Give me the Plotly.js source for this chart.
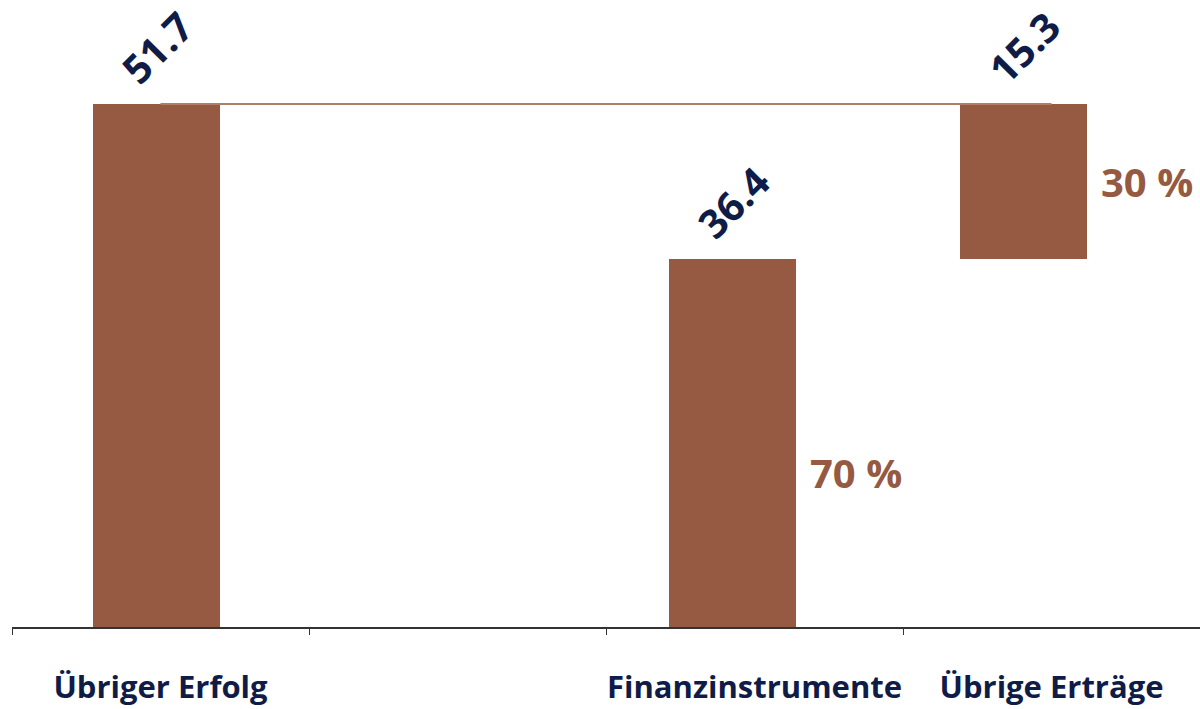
<!DOCTYPE html>
<html>
<head>
<meta charset="utf-8">
<script src="https://cdn.plot.ly/plotly-3.0.1.min.js"></script>
<style>
  html, body { margin: 0; padding: 0; background: #fff; }
  #chart { width: 1200px; height: 709px; }
</style>
</head>
<body>
<div id="chart"></div>
<script>
// categories (second slot is an empty spacer in the original layout)
const categories = ["Übriger Erfolg", " ", "Finanzinstrumente", "Übrige Erträge"];
const barCats    = ["Übriger Erfolg", "Finanzinstrumente", "Übrige Erträge"];
const barValues  = [51.7, 36.4, 15.3];
const barBases   = [0, 0, 36.4];
const valueLabels = ["51.7", "36.4", "15.3"];
const shareCats   = ["Finanzinstrumente", "Übrige Erträge"];
const shareLabels = ["70 %", "30 %"];
const total = 51.7;

const C = {
  bar: "#965A42", line: "#B07D66", navy: "#0F1C47", axis: "#333333",
  font: "'Open Sans', sans-serif",
};

// small per-bar shift to match the original placement (fraction of category)
const W = 0.43;
const shift = [-0.013, -0.074, -0.094];
const offsets = shift.map(s => -W / 2 + s);
const CAT_PX = 297;

const bars = {
  type: "bar", x: barCats, y: barValues, base: barBases,
  width: W, offset: offsets,
  marker: { color: C.bar, line: { width: 0 } },
  hoverinfo: "skip",
};

const connector = {
  type: "scatter", mode: "lines",
  x: [barCats[0], barCats[2]], y: [total, total],
  line: { color: C.line, width: 2 }, hoverinfo: "skip",
};

const annotations = [];
barCats.forEach((c, i) => {
  annotations.push({
    x: c, y: barBases[i] + barValues[i], text: valueLabels[i],
    xref: "x", yref: "y", showarrow: false, textangle: -45,
    xanchor: "center", yanchor: "bottom",
    xshift: shift[i] * CAT_PX, yshift: 6,
    font: { family: C.font, size: 40, color: C.navy, weight: 700 },
  });
});
const shareY = [-0.3, 0];
shareCats.forEach((c, j) => {
  const i = barCats.indexOf(c);
  annotations.push({
    x: c, y: barBases[i] + barValues[i] / 2, text: shareLabels[j],
    xref: "x", yref: "y", showarrow: false,
    xanchor: "left", yanchor: "middle",
    xshift: (offsets[i] + W) * CAT_PX + 12, yshift: shareY[j] * 100,
    font: { family: C.font, size: 40, color: C.bar, weight: 700 },
  });
});

const layout = {
  width: 1200, height: 709,
  paper_bgcolor: "#fff", plot_bgcolor: "#fff",
  margin: { l: 12, r: 0, t: 20, b: 82 },
  showlegend: false, bargap: 0,
  xaxis: {
    type: "category", categoryorder: "array", categoryarray: categories,
    range: [-0.5, 3.5], tickson: "boundaries", ticks: "outside", ticklen: 6,
    tickcolor: C.axis, showline: true, linecolor: C.axis, linewidth: 1.5,
    showgrid: false, zeroline: false, ticklabelstandoff: 32, tickangle: 0,
    tickfont: { family: C.font, size: 31, color: C.navy, weight: 700 },
  },
  yaxis: {
    range: [0, 60], visible: false, showgrid: false, zeroline: false,
  },
  annotations: annotations,
};

Plotly.newPlot("chart", [bars, connector], layout, { displayModeBar: false, staticPlot: true });
</script>
</body>
</html>
